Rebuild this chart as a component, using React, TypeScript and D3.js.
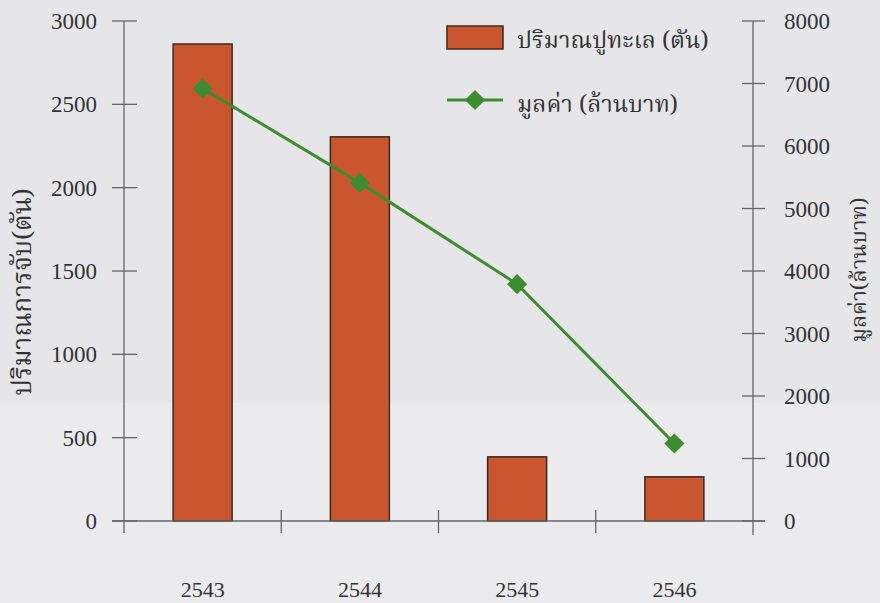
import React from "react";
import * as d3 from "d3";

const years = ["2543", "2544", "2545", "2546"];
const crabTons = [2862, 2305, 385, 265];
const valueMillionBaht = [6920, 5410, 3790, 1240];
const leftTicks = [0, 500, 1000, 1500, 2000, 2500, 3000];
const rightTicks = [0, 1000, 2000, 3000, 4000, 5000, 6000, 7000, 8000];
const leftTitle = "ปริมาณการจับ(ตัน)";
const rightTitle = "มูลค่า(ล้านบาท)";
const legendBar = "ปริมาณปูทะเล (ตัน)";
const legendLine = "มูลค่า (ล้านบาท)";

const W = 880;
const H = 603;
const BAR = "#ca5630";
const GREEN = "#3e8c30";
const AXIS = "#666";
const NUM_FONT = "'Liberation Serif', 'DejaVu Serif', serif";
const THAI_FONT = "'Noto Serif Thai', 'Noto Sans Thai', 'Loma', 'Garuda', 'Noto Sans', serif";

export default function App() {
  const x = d3.scaleBand<string>().domain(years).range([124, 753]).padding(0);
  const yL = d3.scaleLinear().domain([0, 3000]).range([521, 21]);
  const yR = d3.scaleLinear().domain([0, 8000]).range([521, 21]);
  const bw = 59;
  const line = d3
    .line<number>()
    .x((_, i) => (x(years[i]) as number) + x.bandwidth() / 2)
    .y((d) => yR(d));
  const diamond = d3.symbol().type(d3.symbolDiamond2).size(260)();
  const boundaries = years.map((y) => x(y) as number).concat([753]);

  return (
    <svg
      width={W}
      height={H}
      style={{ position: "absolute", left: 0, top: 0, display: "block" }}
    >
      <rect x={0} y={0} width={W} height={H} fill="#e6e6e9" />
      <rect x={0} y={403} width={W} height={H - 403} fill="#ebebee" />

      {/* bars */}
      {crabTons.map((v, i) => {
        const cx = (x(years[i]) as number) + x.bandwidth() / 2;
        return (
          <rect
            key={i}
            x={cx - bw / 2}
            y={yL(v)}
            width={bw}
            height={yL(0) - yL(v)}
            fill={BAR}
            stroke="#3a2a22"
            strokeWidth={1.5}
          />
        );
      })}

      {/* x axis */}
      <line x1={112} x2={765} y1={yL(0)} y2={yL(0)} stroke={AXIS} strokeWidth={1.3} />
      {boundaries.slice(1, 4).map((bx, i) => (
        <line key={i} x1={bx} x2={bx} y1={yL(0) - 11} y2={yL(0) + 12} stroke={AXIS} strokeWidth={1.3} />
      ))}
      {years.map((y, i) => (
        <text
          key={i}
          x={(x(y) as number) + x.bandwidth() / 2}
          y={597}
          textAnchor="middle"
          fontFamily={NUM_FONT}
          fontSize={22}
          fill="#333"
        >
          {y}
        </text>
      ))}

      {/* left axis */}
      <line x1={124} x2={124} y1={yL(3000)} y2={533} stroke={AXIS} strokeWidth={1.3} />
      {leftTicks.map((t) => (
        <g key={t}>
          <line x1={112} x2={137} y1={yL(t)} y2={yL(t)} stroke={AXIS} strokeWidth={1.3} />
          <text
            x={97}
            y={yL(t)}
            dy="0.35em"
            textAnchor="end"
            fontFamily={NUM_FONT}
            fontSize={23}
            fill="#333"
          >
            {t}
          </text>
        </g>
      ))}
      <text
        transform={`translate(31,292) rotate(-90)`}
        textAnchor="middle"
        fontFamily={THAI_FONT}
        fontSize={26}
        fill="#333"
      >
        {leftTitle}
      </text>

      {/* right axis */}
      <line x1={753} x2={753} y1={yR(8000)} y2={535} stroke={AXIS} strokeWidth={1.3} />
      {rightTicks.map((t) => (
        <g key={t}>
          <line x1={742} x2={765} y1={yR(t)} y2={yR(t)} stroke={AXIS} strokeWidth={1.3} />
          <text
            x={784}
            y={yR(t)}
            dy="0.35em"
            textAnchor="start"
            fontFamily={NUM_FONT}
            fontSize={23}
            fill="#333"
          >
            {t}
          </text>
        </g>
      ))}
      <text
        transform={`translate(866,270) rotate(-90)`}
        textAnchor="middle"
        fontFamily={THAI_FONT}
        fontSize={22}
        fill="#333"
      >
        {rightTitle}
      </text>

      {/* line series */}
      <path d={line(valueMillionBaht) || ""} fill="none" stroke={GREEN} strokeWidth={3} />
      {valueMillionBaht.map((v, i) => (
        <path
          key={i}
          d={diamond || ""}
          transform={`translate(${(x(years[i]) as number) + x.bandwidth() / 2},${yR(v)})`}
          fill={GREEN}
        />
      ))}

      {/* legend */}
      <rect x={447} y={26} width={56} height={23} fill={BAR} stroke="#3a2a22" strokeWidth={1.5} />
      <text x={517} y={48} fontFamily={THAI_FONT} fontSize={23.5} fill="#333">
        {legendBar}
      </text>
      <line x1={447} x2={503} y1={100} y2={100} stroke={GREEN} strokeWidth={3} />
      <path d={diamond || ""} transform="translate(475,100)" fill={GREEN} />
      <text x={517} y={112} fontFamily={THAI_FONT} fontSize={23.5} fill="#333">
        {legendLine}
      </text>
    </svg>
  );
}
